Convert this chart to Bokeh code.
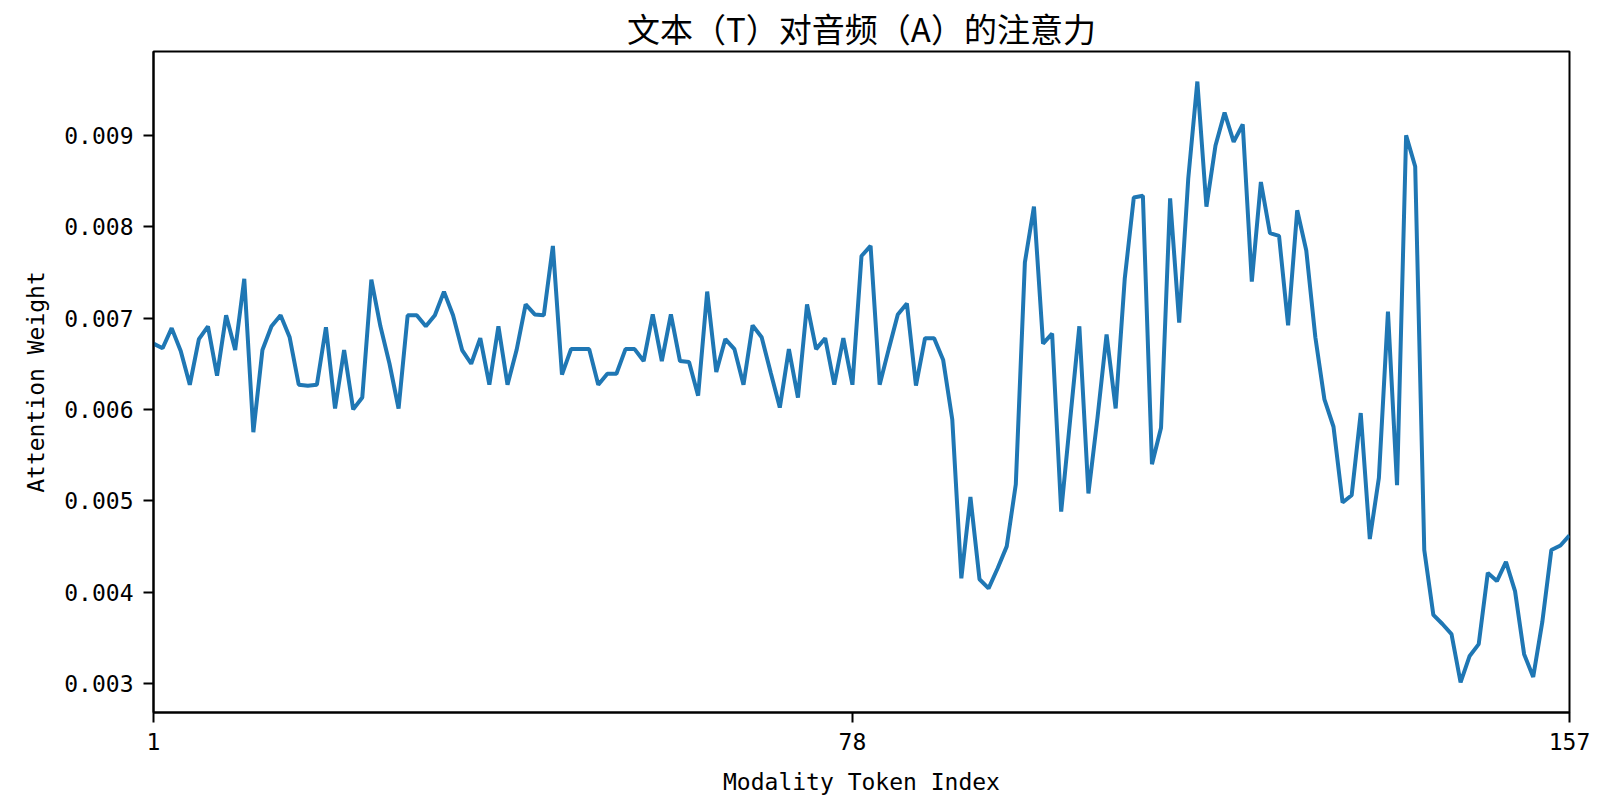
from bokeh.plotting import figure
from bokeh.models import FixedTicker, Range1d, CustomJSTickFormatter
from bokeh.embed import file_html
from bokeh.resources import INLINE

token_index = list(range(1, 158))
attention_weight = [
    0.00672, 0.00667, 0.00689, 0.00664, 0.00627, 0.00677, 0.00691, 0.00637, 0.00703, 0.00665,
    0.00743, 0.00575, 0.00665, 0.00691, 0.00703, 0.00679, 0.00627, 0.00626, 0.00627, 0.00690,
    0.00601, 0.00665, 0.00600, 0.00613, 0.00742, 0.00691, 0.00650, 0.00601, 0.00703, 0.00703,
    0.00691, 0.00703, 0.00729, 0.00703, 0.00665, 0.00650, 0.00678, 0.00627, 0.00691, 0.00627,
    0.00665, 0.00715, 0.00704, 0.00703, 0.00779, 0.00638, 0.00666, 0.00666, 0.00666, 0.00627,
    0.00639, 0.00639, 0.00666, 0.00666, 0.00653, 0.00704, 0.00653, 0.00704, 0.00653, 0.00652,
    0.00615, 0.00729, 0.00641, 0.00677, 0.00666, 0.00627, 0.00692, 0.00679, 0.00640, 0.00602,
    0.00666, 0.00613, 0.00715, 0.00666, 0.00678, 0.00627, 0.00678, 0.00627, 0.00768, 0.00779,
    0.00627, 0.00666, 0.00704, 0.00716, 0.00626, 0.00678, 0.00678, 0.00654, 0.00589, 0.00415,
    0.00504, 0.00414, 0.00404, 0.00426, 0.00450, 0.00518, 0.00761, 0.00822, 0.00672, 0.00683,
    0.00488, 0.00590, 0.00691, 0.00508, 0.00591, 0.00682, 0.00601, 0.00743, 0.00832, 0.00834,
    0.00540, 0.00580, 0.00831, 0.00695, 0.00853, 0.00959, 0.00822, 0.00889, 0.00925, 0.00893,
    0.00912, 0.00740, 0.00849, 0.00793, 0.00790, 0.00692, 0.00818, 0.00774, 0.00679, 0.00611,
    0.00581, 0.00498, 0.00506, 0.00596, 0.00458, 0.00525, 0.00707, 0.00517, 0.00900, 0.00866,
    0.00446, 0.00375, 0.00365, 0.00354, 0.00301, 0.00330, 0.00343, 0.00421, 0.00412, 0.00433,
    0.00401, 0.00332, 0.00307, 0.00367, 0.00446, 0.00451, 0.00462,
]
x_ticks = [1, 78, 157]
y_ticks = [0.003, 0.004, 0.005, 0.006, 0.007, 0.008, 0.009]

title_text = "文本（T）对音频（A）的注意力"
x_label = "Modality Token Index"
y_label = "Attention Weight"

ymin, ymax = min(attention_weight), max(attention_weight)
pad = (ymax - ymin) * 0.05
y_lo, y_hi = ymin - pad, ymax + pad

p = figure(width=1592, height=800, output_backend="svg", toolbar_location=None,
           x_range=Range1d(1, 157), y_range=Range1d(y_lo, y_hi),
           min_border_left=153, min_border_right=23, min_border_top=51, min_border_bottom=88)
p.title.text = title_text
p.title.align = "center"
p.title.text_font = "Noto Sans CJK SC"
p.title.text_font_size = "33px"
p.title.text_font_style = "normal"
p.title.text_color = "black"
p.title.standoff = 0
p.title.offset = 0

p.line(token_index, attention_weight, line_color="#1f77b4", line_width=4)

p.xgrid.visible = False
p.ygrid.visible = False
p.outline_line_color = "black"
p.outline_line_width = 2
p.outline_line_alpha = 1

p.xaxis.ticker = FixedTicker(ticks=x_ticks)
p.yaxis.ticker = FixedTicker(ticks=y_ticks)
p.yaxis.formatter = CustomJSTickFormatter(code="return tick.toFixed(3);")

for ax in (p.xaxis[0], p.yaxis[0]):
    ax.axis_line_color = "black"
    ax.axis_line_width = 2
    ax.major_tick_line_color = "black"
    ax.major_tick_line_width = 2
    ax.major_tick_out = 10
    ax.major_tick_in = 0
    ax.minor_tick_line_color = None
    ax.major_label_text_font = "DejaVu Sans Mono"
    ax.major_label_text_font_size = "23px"
    ax.major_label_text_color = "black"
    ax.axis_label_text_font = "DejaVu Sans Mono"
    ax.axis_label_text_font_size = "23px"
    ax.axis_label_text_font_style = "normal"
    ax.axis_label_text_color = "black"
    ax.major_label_standoff = 10

p.xaxis.axis_label = x_label
p.yaxis.axis_label = y_label
p.xaxis.axis_label_standoff = 16
p.yaxis.axis_label_standoff = 12

open("out.html", "w").write(file_html(p, INLINE))
